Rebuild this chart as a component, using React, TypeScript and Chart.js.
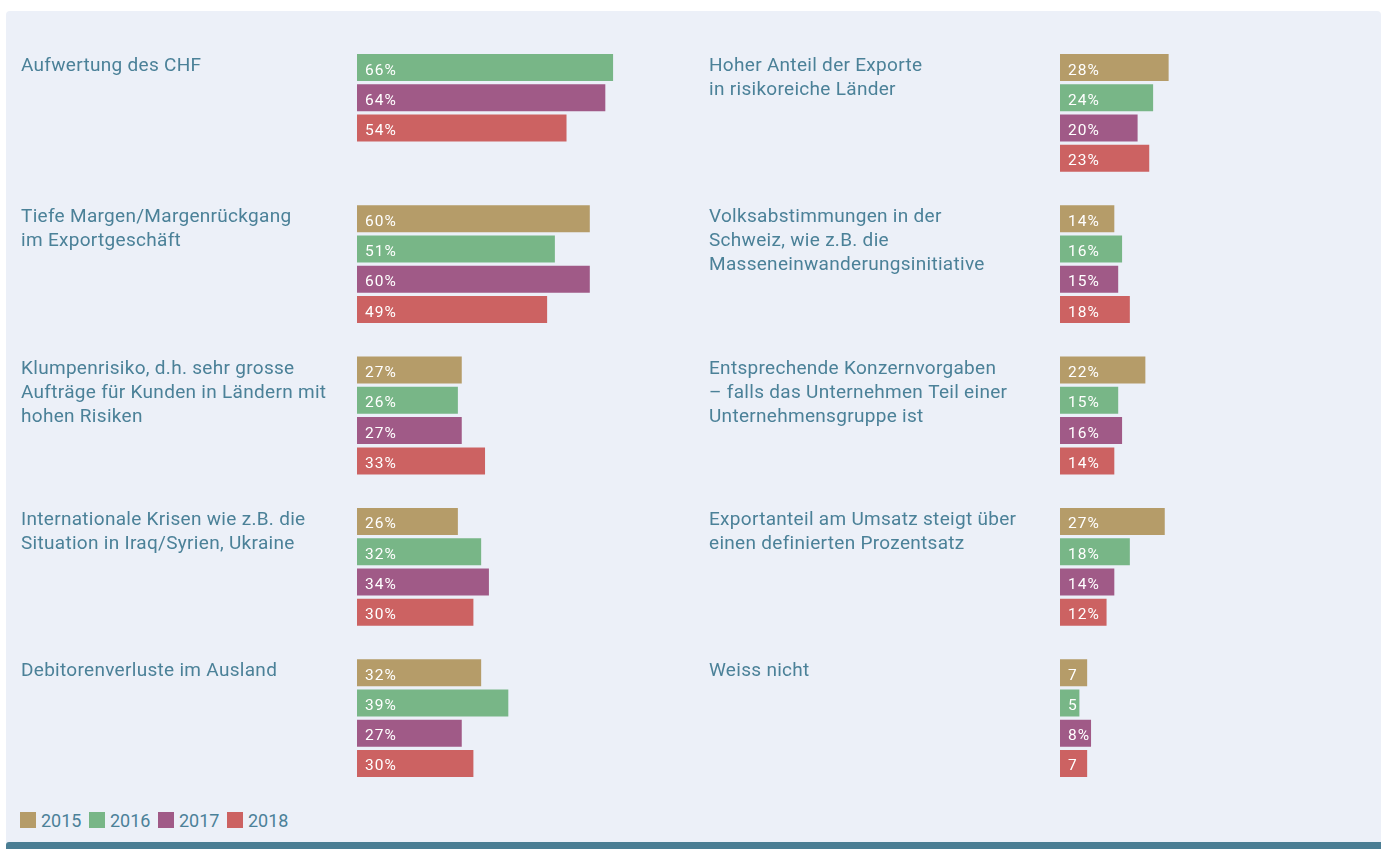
import React, { useEffect, useRef } from "react";
import { Chart, registerables } from "chart.js";

Chart.register(...registerables);

// ---------- data ----------
const years = ["2015", "2016", "2017", "2018"];
const yearColors = ["#B59C69", "#78B687", "#A05A87", "#CC6262"];

const leftCategories: string[][] = [
  ["Aufwertung des CHF"],
  ["Tiefe Margen/Margenrückgang", "im Exportgeschäft"],
  ["Klumpenrisiko, d.h. sehr grosse", "Aufträge für Kunden in Ländern mit", "hohen Risiken"],
  ["Internationale Krisen wie z.B. die", "Situation in Iraq/Syrien, Ukraine"],
  ["Debitorenverluste im Ausland"],
];
const left2015: (number | null)[] = [null, 60, 27, 26, 32];
const left2016: (number | null)[] = [66, 51, 26, 32, 39];
const left2017: (number | null)[] = [64, 60, 27, 34, 27];
const left2018: (number | null)[] = [54, 49, 33, 30, 30];

const rightCategories: string[][] = [
  ["Hoher Anteil der Exporte", "in risikoreiche Länder"],
  ["Volksabstimmungen in der", "Schweiz, wie z.B. die", "Masseneinwanderungsinitiative"],
  ["Entsprechende Konzernvorgaben", "– falls das Unternehmen Teil einer", "Unternehmensgruppe ist"],
  ["Exportanteil am Umsatz steigt über", "einen definierten Prozentsatz"],
  ["Weiss nicht"],
];
const right2015: (number | null)[] = [28, 14, 22, 27, 7];
const right2016: (number | null)[] = [24, 16, 15, 18, 5];
const right2017: (number | null)[] = [20, 15, 16, 14, 8];
const right2018: (number | null)[] = [23, 18, 14, 12, 7];

const axisMax = 80;

// ---------- style ----------
const textColor = "#4B8198";
const panelBg = "#ECF0F8";
const stripColor = "#4A7D93";
const FONT = "Roboto, 'Noto Sans', sans-serif";

const SLOTS = 4;
const GAP = 1;
const ROW = 30.26;
const BAR = 27;

function buildRows(series: (number | null)[][], nCats: number) {
  const nRows = nCats * (SLOTS + GAP) - GAP;
  const labels = Array.from({ length: nRows }, (_, i) => String(i));
  const datasets = series.map((_, yi) => ({
    label: years[yi],
    data: new Array(nRows).fill(null) as (number | null)[],
    backgroundColor: yearColors[yi],
    borderWidth: 0,
    grouped: false,
    categoryPercentage: 1,
    barPercentage: BAR / ROW,
  }));
  const groupStart: number[] = [];
  for (let c = 0; c < nCats; c++) {
    let r = c * (SLOTS + GAP);
    groupStart.push(r);
    for (let yi = 0; yi < series.length; yi++) {
      const v = series[yi][c];
      if (v !== null && v !== undefined) {
        datasets[yi].data[r] = v;
        r++;
      }
    }
  }
  return { labels, datasets, groupStart, nRows };
}

type ColProps = {
  categories: string[][];
  series: (number | null)[][];
  left: number;
  width: number;
  plotLeft: number;
  labelX: number;
};

const CANVAS_H = 800;
const PLOT_TOP = 54 - (ROW - BAR) / 2;

function ColumnChart({ categories, series, left, width, plotLeft, labelX }: ColProps) {
  const ref = useRef<HTMLCanvasElement | null>(null);
  useEffect(() => {
    if (!ref.current) return;
    const { labels, datasets, groupStart, nRows } = buildRows(series, categories.length);
    const plotW = axisMax * 3.88;
    const plotH = nRows * ROW;
    const plugin = {
      id: "colLabels",
      afterDatasetsDraw(chart: any) {
        const ctx: CanvasRenderingContext2D = chart.ctx;
        ctx.save();
        ctx.textAlign = "left";
        ctx.textBaseline = "alphabetic";
        ctx.font = `15.5px ${FONT}`;
        (ctx as any).letterSpacing = "1px";
        ctx.fillStyle = "#FFFFFF";
        chart.data.datasets.forEach((ds: any, di: number) => {
          const meta = chart.getDatasetMeta(di);
          meta.data.forEach((el: any, i: number) => {
            const v = ds.data[i];
            if (v === null || v === undefined) return;
            const p = el.getProps(["x", "y", "base"], true);
            const w = p.x - p.base;
            let t = `${v}%`;
            if (ctx.measureText(t).width + 8 > w) t = `${v}`;
            ctx.fillText(t, p.base + 8, p.y + 7);
          });
        });
        ctx.font = `19px ${FONT}`;
        (ctx as any).letterSpacing = "0.3px";
        ctx.fillStyle = textColor;
        const ys = chart.scales.y;
        categories.forEach((lines, c) => {
          const yc = ys.getPixelForValue(groupStart[c]);
          lines.forEach((ln, li) => {
            ctx.fillText(ln, labelX, yc + 3.5 + li * 24);
          });
        });
        ctx.restore();
      },
    };
    const chart = new Chart(ref.current, {
      type: "bar",
      data: { labels, datasets: datasets as any },
      options: {
        indexAxis: "y",
        responsive: false,
        animation: false,
        events: [],
        layout: {
          padding: {
            left: plotLeft,
            right: width - plotLeft - plotW,
            top: PLOT_TOP,
            bottom: CANVAS_H - PLOT_TOP - plotH,
          },
        },
        scales: {
          x: { min: 0, max: axisMax, display: false },
          y: { type: "category", display: false, offset: true },
        },
        plugins: {
          legend: { display: false },
          tooltip: { enabled: false },
        },
      },
      plugins: [plugin],
    });
    return () => chart.destroy();
  }, []);
  return (
    <canvas
      ref={ref}
      width={width}
      height={CANVAS_H}
      style={{ position: "absolute", left, top: 0, width, height: CANVAS_H }}
    />
  );
}

export default function App() {
  return (
    <div style={{ position: "absolute", left: 0, top: 0, width: 1382, height: 849, overflow: "hidden" }}>
      <div
        style={{
          position: "absolute",
          left: 6,
          top: 11,
          width: 1375,
          height: 838,
          background: panelBg,
          borderTopLeftRadius: 4,
          borderTopRightRadius: 4,
        }}
      />
      <div
        style={{
          position: "absolute",
          left: 6,
          top: 842,
          width: 1375,
          height: 7,
          background: stripColor,
          borderTopLeftRadius: 3,
        }}
      />
      <ColumnChart
        categories={leftCategories}
        series={[left2015, left2016, left2017, left2018]}
        left={0}
        width={700}
        plotLeft={357}
        labelX={21}
      />
      <ColumnChart
        categories={rightCategories}
        series={[right2015, right2016, right2017, right2018]}
        left={690}
        width={692}
        plotLeft={370}
        labelX={19}
      />
      <div
        style={{
          position: "absolute",
          left: 20,
          top: 812,
          display: "flex",
          alignItems: "center",
          fontFamily: FONT,
          fontSize: 18,
          lineHeight: "16px",
          color: textColor,
        }}
      >
        {years.map((y, i) => (
          <div key={y} style={{ display: "flex", alignItems: "center", marginRight: 7.5 }}>
            <span style={{ display: "inline-block", width: 16, height: 16, background: yearColors[i], marginRight: 5 }} />
            <span style={{ position: "relative", top: 1 }}>{y}</span>
          </div>
        ))}
      </div>
    </div>
  );
}
